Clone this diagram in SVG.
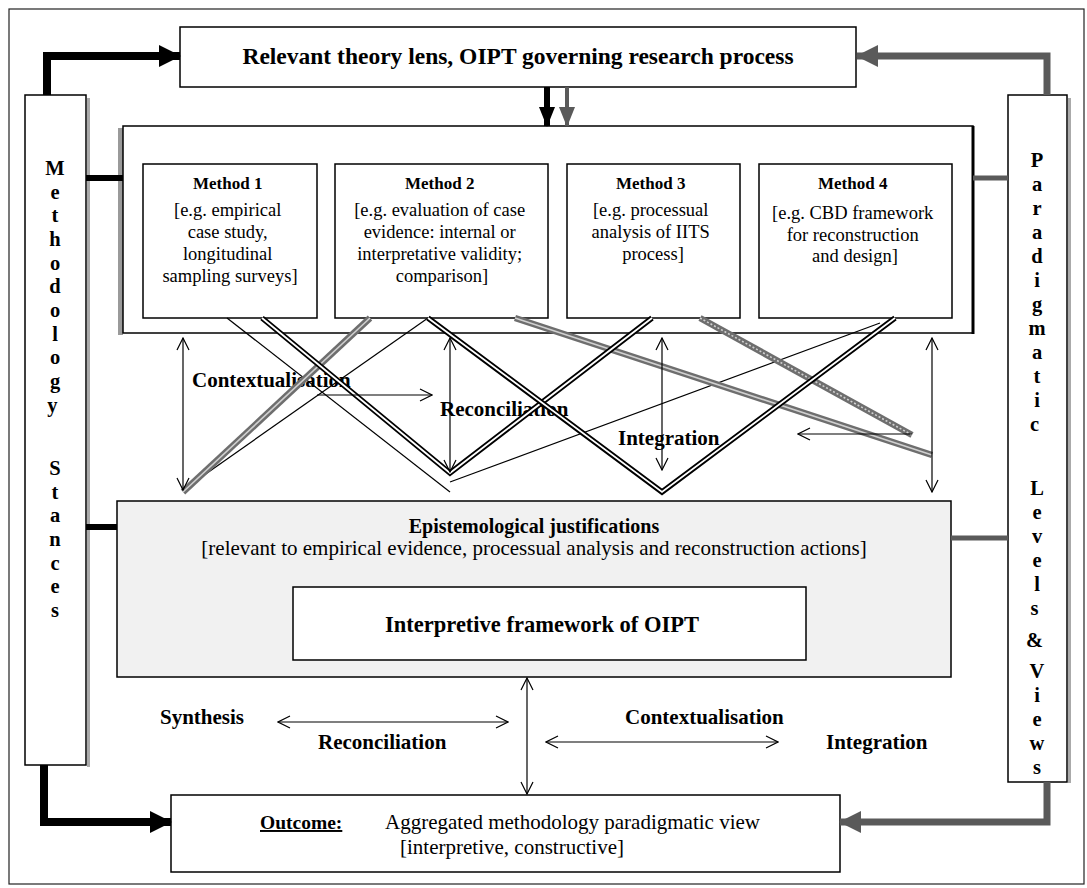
<svg xmlns="http://www.w3.org/2000/svg" width="1087" height="888" viewBox="0 0 1087 888">
  <style>
    .serif { font-family: "Liberation Serif", "Times New Roman", serif; fill: #000; }
    .b { font-weight: bold; }
    .box { fill: #fff; stroke: #000; stroke-width: 1.5; }
    .thin { fill: none; stroke: #000; stroke-width: 1.2; }
    .dblOuter { fill: none; stroke: #000; stroke-width: 5.5; }
    .dblInner { fill: none; stroke: #fff; stroke-width: 1.8; }
    .grayOuter { fill: none; stroke: #6e6e6e; stroke-width: 6.5; }
    .grayInner { fill: none; stroke: #d0d0d0; stroke-width: 1.6; }
    .arr2 { marker-start: url(#openHead); marker-end: url(#openHead); }
    .arr1 { marker-end: url(#openHead); }
  </style>
  <defs>
    <marker id="openHead" viewBox="0 0 14 14" refX="13" refY="7" markerWidth="14" markerHeight="14" markerUnits="userSpaceOnUse" orient="auto-start-reverse">
      <path d="M1,1 L13,7 L1,13" fill="none" stroke="#000" stroke-width="1.2"/>
    </marker>
    <marker id="headBlack" viewBox="0 0 22 22" refX="21" refY="11" markerWidth="22" markerHeight="22" markerUnits="userSpaceOnUse" orient="auto">
      <path d="M0,0 L22,11 L0,22 Z" fill="#000"/>
    </marker>
    <marker id="headGray" viewBox="0 0 22 22" refX="21" refY="11" markerWidth="22" markerHeight="22" markerUnits="userSpaceOnUse" orient="auto">
      <path d="M0,0 L22,11 L0,22 Z" fill="#5a5a5a"/>
    </marker>
    <marker id="headBlackSm" viewBox="0 0 20 16" refX="19" refY="8" markerWidth="20" markerHeight="16" markerUnits="userSpaceOnUse" orient="auto">
      <path d="M0,0 L20,8 L0,16 Z" fill="#000"/>
    </marker>
    <marker id="headGraySm" viewBox="0 0 20 16" refX="19" refY="8" markerWidth="20" markerHeight="16" markerUnits="userSpaceOnUse" orient="auto">
      <path d="M0,0 L20,8 L0,16 Z" fill="#5a5a5a"/>
    </marker>
  </defs>

  <rect width="1087" height="888" fill="#fff"/>
  <!-- outer frame -->
  <rect x="9" y="9" width="1075" height="875" fill="none" stroke="#222" stroke-width="1.2"/>

  <!-- top: theory lens -->
  <g id="theory-lens">
    <rect x="180" y="27" width="676" height="60" class="box" stroke-width="2.5"/>
    <text x="518" y="64" class="serif b" font-size="23.5" text-anchor="middle">Relevant theory lens, OIPT governing research process</text>
  </g>

  <!-- left column -->
  <g id="methodology-stances">
    <rect x="87" y="98" width="3" height="669" fill="#aaa"/>
    <rect x="25" y="95" width="61" height="670" class="box" stroke-width="2"/>
    <text class="serif b" font-size="20.5" text-anchor="middle">
      <tspan x="55" y="175">M</tspan><tspan x="55" y="199">e</tspan><tspan x="55" y="222">t</tspan><tspan x="55" y="246">h</tspan><tspan x="55" y="270">o</tspan><tspan x="55" y="293">d</tspan><tspan x="55" y="317">o</tspan><tspan x="55" y="341">l</tspan><tspan x="55" y="364">o</tspan><tspan x="55" y="388">g</tspan><tspan x="55" y="412">y</tspan>
      <tspan x="55" y="475">S</tspan><tspan x="55" y="499">t</tspan><tspan x="55" y="522">a</tspan><tspan x="55" y="546">n</tspan><tspan x="55" y="570">c</tspan><tspan x="55" y="593">e</tspan><tspan x="55" y="617">s</tspan>
    </text>
  </g>

  <!-- right column -->
  <g id="paradigmatic-views">
    <rect x="1068" y="98" width="3" height="685" fill="#aaa"/>
    <rect x="1008" y="95" width="59" height="687" class="box" stroke-width="1.5"/>
    <text class="serif b" font-size="20.5" text-anchor="middle">
      <tspan x="1037" y="167">P</tspan><tspan x="1037" y="191">a</tspan><tspan x="1037" y="215">r</tspan><tspan x="1037" y="239">a</tspan><tspan x="1037" y="263">d</tspan><tspan x="1037" y="287">i</tspan><tspan x="1037" y="311">g</tspan><tspan x="1037" y="335">m</tspan><tspan x="1037" y="359">a</tspan><tspan x="1037" y="383">t</tspan><tspan x="1037" y="407">i</tspan><tspan x="1037" y="431">c</tspan>
      <tspan x="1037" y="495">L</tspan><tspan x="1037" y="519">e</tspan><tspan x="1037" y="543">v</tspan><tspan x="1037" y="567">e</tspan><tspan x="1037" y="591">l</tspan><tspan x="1037" y="615">s</tspan>
      <tspan x="1037" y="647">&amp;</tspan>
      <tspan x="1037" y="678">V</tspan><tspan x="1037" y="702">i</tspan><tspan x="1037" y="726">e</tspan><tspan x="1037" y="750">w</tspan><tspan x="1037" y="774">s</tspan>
    </text>
  </g>

  <!-- methods container -->
  <g id="methods">
    <rect x="118" y="128" width="5" height="207" fill="#9a9a9a"/>
    <rect x="123" y="126" width="850" height="207" class="box" stroke="#222"/>
    <line x1="973" y1="126" x2="973" y2="334" stroke="#000" stroke-width="3"/>
  </g>

  <g id="method-1">
    <rect x="143" y="164" width="174" height="154" class="box" stroke-width="1.2"/>
    <text class="serif" font-size="18.5" text-anchor="middle">
      <tspan x="230" y="189" class="b" font-size="17">Method 1</tspan>
      <tspan x="230" y="216">[e.g. empirical</tspan>
      <tspan x="230" y="238">case study,</tspan>
      <tspan x="230" y="260">longitudinal</tspan>
      <tspan x="230" y="282">sampling surveys]</tspan>
    </text>
  </g>
  <g id="method-2">
    <rect x="335" y="164" width="213" height="154" class="box" stroke-width="1.2"/>
    <text class="serif" font-size="18.5" text-anchor="middle">
      <tspan x="442" y="189" class="b" font-size="17">Method 2</tspan>
      <tspan x="442" y="216">[e.g. evaluation of case</tspan>
      <tspan x="442" y="238">evidence: internal or</tspan>
      <tspan x="442" y="260">interpretative validity;</tspan>
      <tspan x="442" y="282">comparison]</tspan>
    </text>
  </g>
  <g id="method-3">
    <rect x="567" y="164" width="173" height="154" class="box" stroke-width="1.2"/>
    <text class="serif" font-size="18.5" text-anchor="middle">
      <tspan x="653" y="189" class="b" font-size="17">Method 3</tspan>
      <tspan x="653" y="216">[e.g. processual</tspan>
      <tspan x="653" y="238">analysis of IITS</tspan>
      <tspan x="653" y="260">process]</tspan>
    </text>
  </g>
  <g id="method-4">
    <rect x="759" y="164" width="193" height="154" class="box" stroke-width="1.2"/>
    <text class="serif" font-size="18.5" text-anchor="middle">
      <tspan x="855" y="189" class="b" font-size="17">Method 4</tspan>
      <tspan x="855" y="219">[e.g. CBD framework</tspan>
      <tspan x="855" y="241">for reconstruction</tspan>
      <tspan x="855" y="262">and design]</tspan>
    </text>
  </g>

  <!-- epistemological justifications -->
  <g id="epistemology">
    <rect x="117" y="501" width="834" height="176" fill="#f1f1f1" stroke="#000" stroke-width="1.5"/>
    <text x="534" y="533" class="serif b" font-size="20" text-anchor="middle">Epistemological justifications</text>
    <text x="534" y="555" class="serif" font-size="21" text-anchor="middle">[relevant to empirical evidence, processual analysis and reconstruction actions]</text>
  </g>
  <g id="interpretive-framework">
    <rect x="293" y="587" width="513" height="73" class="box" stroke-width="2.5"/>
    <text x="542" y="632" class="serif b" font-size="22.5" text-anchor="middle">Interpretive framework of OIPT</text>
  </g>

  <!-- outcome -->
  <g id="outcome">
    <rect x="171" y="795" width="669" height="77" class="box" stroke-width="1.5"/>
    <text x="260" y="829" class="serif b" font-size="19.5" text-decoration="underline">Outcome:</text>
    <text x="385" y="829" class="serif" font-size="21">Aggregated methodology paradigmatic view</text>
    <text x="512" y="854" class="serif" font-size="21" text-anchor="middle">[interpretive, constructive]</text>
  </g>

  <!-- labels among the connectors -->
  <g id="labels" class="serif b" font-size="21">
    <text x="192" y="387">Contextualisation</text>
    <text x="440" y="416">Reconciliation</text>
    <text x="618" y="445">Integration</text>
    <text x="160" y="724">Synthesis</text>
    <text x="318" y="749">Reconciliation</text>
    <text x="625" y="724">Contextualisation</text>
    <text x="826" y="749">Integration</text>
  </g>

  <g id="connectors">
    <!-- framing arrows -->
    <path d="M47,95 V56 H180" fill="none" stroke="#000" stroke-width="8" marker-end="url(#headBlack)"/>
    <path d="M1047,95 V56 H857" fill="none" stroke="#5a5a5a" stroke-width="7" marker-end="url(#headGray)"/>
    <path d="M44,765 V822 H171" fill="none" stroke="#000" stroke-width="8" marker-end="url(#headBlack)"/>
    <path d="M1047,782 V822 H840" fill="none" stroke="#5a5a5a" stroke-width="7" marker-end="url(#headGray)"/>

    <line x1="547" y1="87" x2="547" y2="126" stroke="#000" stroke-width="6" marker-end="url(#headBlackSm)"/>
    <line x1="567" y1="87" x2="567" y2="126" stroke="#5a5a5a" stroke-width="4" marker-end="url(#headGraySm)"/>

    <line x1="86" y1="178" x2="123" y2="178" stroke="#000" stroke-width="6"/>
    <line x1="973" y1="178" x2="1008" y2="178" stroke="#5a5a5a" stroke-width="5"/>
    <line x1="86" y1="527" x2="117" y2="527" stroke="#000" stroke-width="6"/>
    <line x1="951" y1="538" x2="1008" y2="538" stroke="#5a5a5a" stroke-width="5"/>

    <!-- thin method links -->
    <line x1="227" y1="318" x2="450" y2="492" class="thin"/>
    <line x1="428" y1="318" x2="200" y2="478" class="thin"/>
    <line x1="450" y1="482" x2="880" y2="323" class="thin"/>

    <!-- gray double links -->
    <g>
      <polyline points="370,318 183,492" class="grayOuter"/>
      <polyline points="370,318 183,492" class="grayInner"/>
      <polyline points="515,318 932,455" class="grayOuter"/>
      <polyline points="515,318 932,455" class="grayInner"/>
      <polyline points="700,318 912,435" class="grayOuter"/>
      <polyline points="700,318 912,435" class="grayInner" stroke-dasharray="2 2"/>
    </g>

    <!-- black double links -->
    <g>
      <polyline points="262,318 450,473 652,318" class="dblOuter" stroke-linejoin="miter"/>
      <polyline points="262,318 450,473 652,318" class="dblInner"/>
      <polyline points="428,318 662,492 895,318" class="dblOuter" stroke-linejoin="miter"/>
      <polyline points="428,318 662,492 895,318" class="dblInner"/>
    </g>

    <!-- vertical and horizontal arrows -->
    <line x1="183" y1="338" x2="183" y2="490" class="thin arr2"/>
    <line x1="450" y1="338" x2="450" y2="472" class="thin arr2"/>
    <line x1="662" y1="338" x2="662" y2="470" class="thin arr2"/>
    <line x1="932" y1="338" x2="932" y2="492" class="thin arr2"/>
    <line x1="317" y1="395" x2="432" y2="395" class="thin arr1"/>
    <line x1="912" y1="434" x2="798" y2="434" class="thin arr1"/>

    <line x1="527" y1="678" x2="527" y2="794" class="thin arr2"/>
    <line x1="278" y1="722" x2="508" y2="722" class="thin arr2"/>
    <line x1="546" y1="742" x2="778" y2="742" class="thin arr2"/>
  </g>
</svg>
